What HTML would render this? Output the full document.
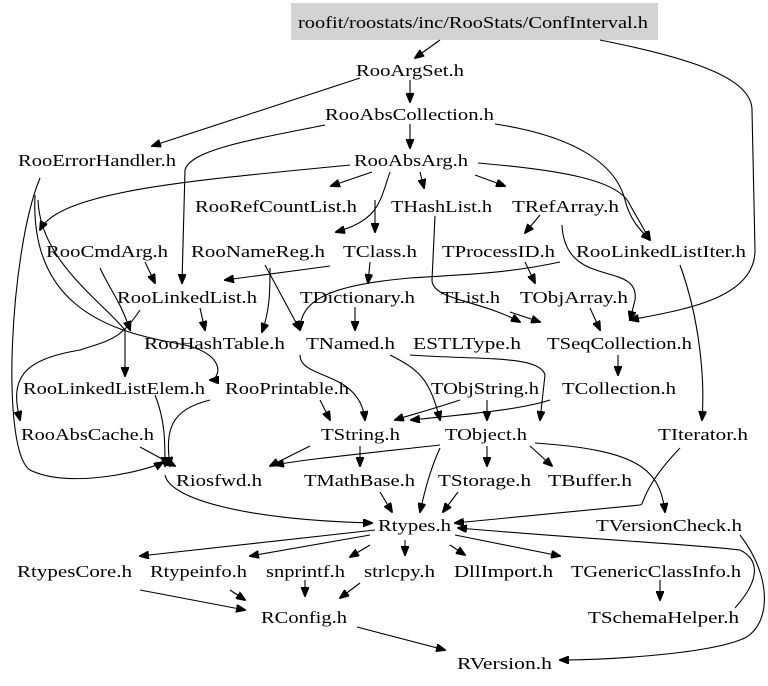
<!DOCTYPE html>
<html><head><meta charset="utf-8"><style>
html,body{margin:0;padding:0;background:#fff}
svg{display:block}
text{font-family:"Liberation Serif",serif;font-size:17px;fill:#000}
path{fill:none;stroke:#000;stroke-width:1.1}
</style></head><body>
<svg width="768" height="686" viewBox="0 0 768 686">
<defs><marker id="a" markerWidth="10" markerHeight="8" refX="9" refY="4" orient="auto" markerUnits="userSpaceOnUse"><path d="M0,0 L10,4 L0,8 Z" style="fill:#000;stroke:#000"/></marker></defs>
<rect x="291" y="3" width="367" height="37" fill="#d3d3d3"/>
<g marker-end="url(#a)">
<path d="M440,40 L415,58"/>
<path d="M600,40 C700,60 752,80 752,110 L755,250 C755,300 680,310 630,320"/>
<path d="M410,80 L410,102"/>
<path d="M360,78 L152,146"/>
<path d="M495,124 C600,140 620,180 625,200 C630,220 640,230 650,240"/>
<path d="M325,125 C250,140 190,150 185,170 L182,283"/>
<path d="M410,124 L410,148"/>
<path d="M372,172 L331,186"/>
<path d="M420,172 L424,188"/>
<path d="M475,175 L505,186"/>
<path d="M478,163 C560,170 620,180 630,205 L650,240"/>
<path d="M350,165 C200,180 60,190 40,230"/>
<path d="M390,172 C380,200 380,220 336,232"/>
<path d="M375,200 L375,232"/>
<path d="M540,215 L525,233"/>
<path d="M435,216 L432,280 C432,300 480,300 520,322"/>
<path d="M40,178 C10,250 0,450 30,470 C70,490 150,470 163,462"/>
<path d="M35,195 C30,300 100,330 175,343 C230,352 220,380 210,380"/>
<path d="M38,200 C40,260 100,300 125,330 L125,376"/>
<path d="M100,268 C110,290 120,300 130,330"/>
<path d="M145,262 L155,283"/>
<path d="M330,266 L225,280"/>
<path d="M265,265 L300,330"/>
<path d="M200,308 L205,330"/>
<path d="M270,268 C270,290 270,310 262,332"/>
<path d="M355,307 L355,330"/>
<path d="M370,262 L368,283"/>
<path d="M560,262 C500,275 450,275 410,278 C330,285 300,300 300,330"/>
<path d="M525,262 L535,283"/>
<path d="M510,312 L540,322"/>
<path d="M590,308 L600,330"/>
<path d="M562,225 C565,290 640,260 635,300 L630,320"/>
<path d="M618,355 L618,375"/>
<path d="M140,310 C120,340 110,340 80,350 C20,360 10,380 20,420"/>
<path d="M550,400 C520,410 460,415 411,420"/>
<path d="M487,400 L487,420"/>
<path d="M460,400 C430,410 410,415 395,420"/>
<path d="M320,400 L330,420"/>
<path d="M300,355 C300,380 360,370 365,420"/>
<path d="M390,355 C420,370 430,380 440,420"/>
<path d="M410,355 C480,360 540,355 545,375 L540,420"/>
<path d="M680,265 C700,320 705,380 702,420"/>
<path d="M310,446 L270,466"/>
<path d="M360,446 L360,466"/>
<path d="M487,446 L487,466"/>
<path d="M530,446 L552,466"/>
<path d="M440,445 C350,455 300,460 275,465"/>
<path d="M535,443 C640,450 660,470 665,512"/>
<path d="M440,448 C430,470 425,490 420,512"/>
<path d="M140,447 L175,466"/>
<path d="M210,400 C170,410 165,430 170,466"/>
<path d="M155,395 C165,420 165,440 165,466"/>
<path d="M680,448 C640,490 645,505 640,505 L455,523"/>
<path d="M165,475 C170,500 250,520 372,523"/>
<path d="M380,492 L392,512"/>
<path d="M458,492 L443,512"/>
<path d="M375,530 L140,556"/>
<path d="M370,535 L250,556"/>
<path d="M370,545 L350,557"/>
<path d="M405,540 L405,555"/>
<path d="M450,545 L465,555"/>
<path d="M455,535 L560,556"/>
<path d="M735,608 C760,580 760,560 740,550 C700,545 600,540 458,528"/>
<path d="M140,590 L245,610"/>
<path d="M230,590 L245,600"/>
<path d="M305,580 L305,596"/>
<path d="M360,583 L340,598"/>
<path d="M660,580 L660,600"/>
<path d="M357,627 L445,650"/>
<path d="M740,535 C775,580 770,630 740,640 C700,655 600,660 560,660"/>
</g>
<text x="298" y="28" textLength="350" lengthAdjust="spacingAndGlyphs">roofit/roostats/inc/RooStats/ConfInterval.h</text>
<text x="356" y="76" textLength="108" lengthAdjust="spacingAndGlyphs">RooArgSet.h</text>
<text x="325" y="120" textLength="169" lengthAdjust="spacingAndGlyphs">RooAbsCollection.h</text>
<text x="18" y="166" textLength="158" lengthAdjust="spacingAndGlyphs">RooErrorHandler.h</text>
<text x="354" y="166" textLength="114" lengthAdjust="spacingAndGlyphs">RooAbsArg.h</text>
<text x="195" y="212" textLength="162" lengthAdjust="spacingAndGlyphs">RooRefCountList.h</text>
<text x="391" y="212" textLength="101" lengthAdjust="spacingAndGlyphs">THashList.h</text>
<text x="512" y="212" textLength="107" lengthAdjust="spacingAndGlyphs">TRefArray.h</text>
<text x="46" y="257" textLength="122" lengthAdjust="spacingAndGlyphs">RooCmdArg.h</text>
<text x="191" y="257" textLength="134" lengthAdjust="spacingAndGlyphs">RooNameReg.h</text>
<text x="343" y="257" textLength="74" lengthAdjust="spacingAndGlyphs">TClass.h</text>
<text x="442" y="257" textLength="113" lengthAdjust="spacingAndGlyphs">TProcessID.h</text>
<text x="576" y="257" textLength="170" lengthAdjust="spacingAndGlyphs">RooLinkedListIter.h</text>
<text x="117" y="303" textLength="140" lengthAdjust="spacingAndGlyphs">RooLinkedList.h</text>
<text x="300" y="303" textLength="115" lengthAdjust="spacingAndGlyphs">TDictionary.h</text>
<text x="441" y="303" textLength="59" lengthAdjust="spacingAndGlyphs">TList.h</text>
<text x="520" y="303" textLength="108" lengthAdjust="spacingAndGlyphs">TObjArray.h</text>
<text x="144" y="349" textLength="141" lengthAdjust="spacingAndGlyphs">RooHashTable.h</text>
<text x="306" y="349" textLength="89" lengthAdjust="spacingAndGlyphs">TNamed.h</text>
<text x="413" y="349" textLength="108" lengthAdjust="spacingAndGlyphs">ESTLType.h</text>
<text x="547" y="349" textLength="145" lengthAdjust="spacingAndGlyphs">TSeqCollection.h</text>
<text x="23" y="394" textLength="182" lengthAdjust="spacingAndGlyphs">RooLinkedListElem.h</text>
<text x="225" y="394" textLength="124" lengthAdjust="spacingAndGlyphs">RooPrintable.h</text>
<text x="431" y="394" textLength="108" lengthAdjust="spacingAndGlyphs">TObjString.h</text>
<text x="562" y="394" textLength="114" lengthAdjust="spacingAndGlyphs">TCollection.h</text>
<text x="21" y="440" textLength="133" lengthAdjust="spacingAndGlyphs">RooAbsCache.h</text>
<text x="321" y="440" textLength="79" lengthAdjust="spacingAndGlyphs">TString.h</text>
<text x="445" y="440" textLength="82" lengthAdjust="spacingAndGlyphs">TObject.h</text>
<text x="658" y="440" textLength="90" lengthAdjust="spacingAndGlyphs">TIterator.h</text>
<text x="176" y="486" textLength="86" lengthAdjust="spacingAndGlyphs">Riosfwd.h</text>
<text x="304" y="486" textLength="111" lengthAdjust="spacingAndGlyphs">TMathBase.h</text>
<text x="438" y="486" textLength="93" lengthAdjust="spacingAndGlyphs">TStorage.h</text>
<text x="548" y="486" textLength="84" lengthAdjust="spacingAndGlyphs">TBuffer.h</text>
<text x="378" y="531" textLength="73" lengthAdjust="spacingAndGlyphs">Rtypes.h</text>
<text x="596" y="531" textLength="146" lengthAdjust="spacingAndGlyphs">TVersionCheck.h</text>
<text x="17" y="577" textLength="115" lengthAdjust="spacingAndGlyphs">RtypesCore.h</text>
<text x="150" y="577" textLength="97" lengthAdjust="spacingAndGlyphs">Rtypeinfo.h</text>
<text x="266" y="577" textLength="79" lengthAdjust="spacingAndGlyphs">snprintf.h</text>
<text x="364" y="577" textLength="71" lengthAdjust="spacingAndGlyphs">strlcpy.h</text>
<text x="454" y="577" textLength="99" lengthAdjust="spacingAndGlyphs">DllImport.h</text>
<text x="571" y="577" textLength="170" lengthAdjust="spacingAndGlyphs">TGenericClassInfo.h</text>
<text x="261" y="623" textLength="86" lengthAdjust="spacingAndGlyphs">RConfig.h</text>
<text x="588" y="623" textLength="151" lengthAdjust="spacingAndGlyphs">TSchemaHelper.h</text>
<text x="457" y="669" textLength="95" lengthAdjust="spacingAndGlyphs">RVersion.h</text>
</svg>
</body></html>
